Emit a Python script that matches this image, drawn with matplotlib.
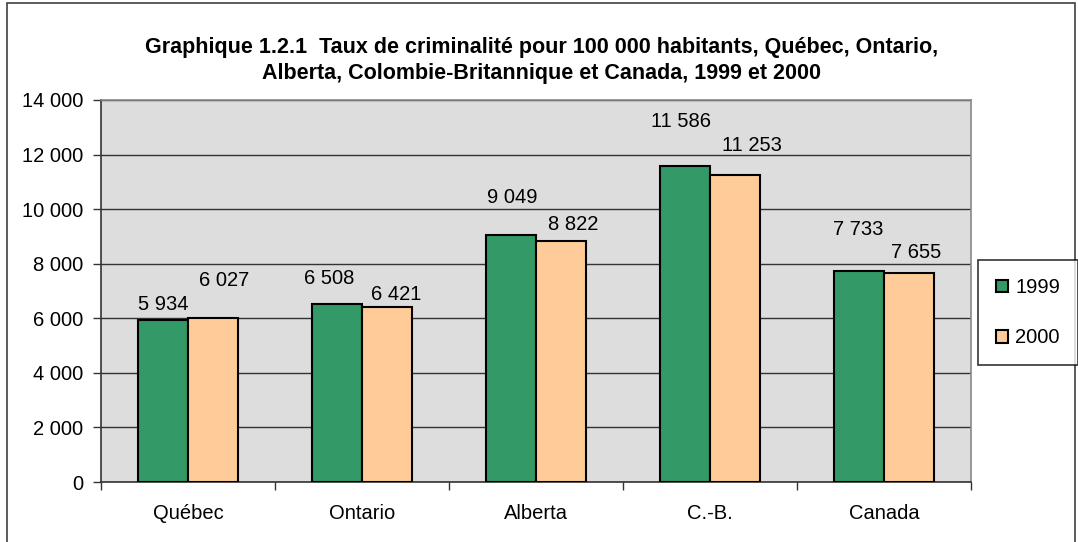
import matplotlib
matplotlib.use("Agg")
import matplotlib.pyplot as plt
import numpy as np
from matplotlib.ticker import FuncFormatter, FixedLocator
from matplotlib.patches import Rectangle

provinces = ["Québec", "Ontario", "Alberta", "C.-B.", "Canada"]
taux_1999 = [5934, 6508, 9049, 11586, 7733]
taux_2000 = [6027, 6421, 8822, 11253, 7655]

# label offsets (points) to mimic the staggered Excel labels
off_1999 = [(0, 11), (-6, 19), (1, 27), (-3, 32), (-1, 30)]
off_2000 = [(8, 27), (7, 9), (9, 12), (12, 21), (5, 15)]

plt.rcParams['font.family'] = ['Liberation Sans', 'DejaVu Sans']

fig = plt.figure(figsize=(10.78, 5.42), dpi=100)
fig.patches.append(Rectangle((7 / 1078, -0.1), 1068 / 1078, 1.1 - 3 / 542,
                             transform=fig.transFigure, fill=False,
                             edgecolor='#404040', linewidth=1.2))

ax = fig.add_axes([101 / 1078, 60 / 542, 870 / 1078, 382 / 542])
ax.set_facecolor('#DDDDDD')

x = np.arange(len(provinces))
w = 1 / 3.5
b1 = ax.bar(x - w / 2, taux_1999, w, color='#339966', edgecolor='black',
            linewidth=1.5, label='1999', zorder=3)
b2 = ax.bar(x + w / 2, taux_2000, w, color='#FFCC99', edgecolor='black',
            linewidth=1.5, label='2000', zorder=3)

fmt = lambda v: f"{int(v):,}".replace(",", " ")
for bars, vals, offs in [(b1, taux_1999, off_1999), (b2, taux_2000, off_2000)]:
    for r, v, (dx, dy) in zip(bars, vals, offs):
        ax.annotate(fmt(v), (r.get_x() + r.get_width() / 2, v),
                    xytext=(dx, dy), textcoords='offset points',
                    ha='center', va='center', fontsize=14.5)

ax.set_xlim(-0.5, len(provinces) - 0.5)
ax.set_ylim(0, 14000)
ax.set_yticks(np.arange(0, 14001, 2000))
ax.yaxis.set_major_formatter(FuncFormatter(lambda v, p: fmt(v)))
ax.yaxis.grid(True, color='#333333', linewidth=1, zorder=1)
ax.set_xticks(x)
ax.set_xticklabels(provinces)
ax.xaxis.set_minor_locator(FixedLocator(np.arange(-0.5, len(provinces), 1)))
ax.tick_params(axis='x', which='major', length=0, pad=16, labelsize=14.5)
ax.tick_params(axis='x', which='minor', length=6, width=1, color='#333333')
ax.tick_params(axis='y', length=6, width=1, color='#333333', pad=7, labelsize=14.5)
for s in ['top', 'right']:
    ax.spines[s].set_color('#888888')
for s in ['left', 'bottom']:
    ax.spines[s].set_color('#333333')
for s in ax.spines.values():
    s.set_linewidth(1.2)

fig.text(542 / 1078, 1 - 47 / 542,
         "Graphique 1.2.1  Taux de criminalité pour 100 000 habitants, Québec, Ontario,",
         ha='center', va='center', fontsize=15.5, fontweight='bold')
fig.text(542 / 1078, 1 - 73 / 542,
         "Alberta, Colombie-Britannique et Canada, 1999 et 2000",
         ha='center', va='center', fontsize=15.5, fontweight='bold')

leg = fig.legend(handles=[b1, b2], loc='upper left',
                 bbox_to_anchor=(978 / 1078, 1 - 260 / 542),
                 fontsize=14.5, frameon=True, fancybox=False,
                 edgecolor='black', handlelength=0.6, handleheight=0.6,
                 handletextpad=0.35, labelspacing=1.55, borderpad=0.9,
                 borderaxespad=0)
leg.get_frame().set_linewidth(1.2)

fig.savefig('out.png', dpi=100)
